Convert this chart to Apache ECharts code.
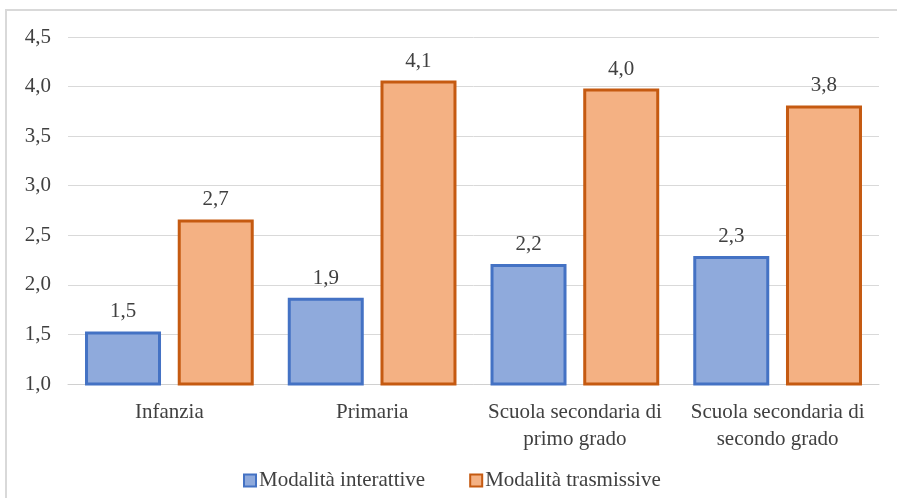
<!DOCTYPE html>
<html>
<head>
<meta charset="utf-8">
<script src="https://cdn.jsdelivr.net/npm/echarts@6/dist/echarts.min.js"></script>
<style>
  html, body { margin: 0; padding: 0; background: #fff; }
  #frame { position: absolute; left: 5px; top: 9px; width: 892px; height: 489px;
           border-top: 2px solid #d9d9d9; border-left: 2px solid #d9d9d9; box-sizing: border-box; }
  #chart { position: absolute; left: 0; top: 0; width: 897px; height: 498px; }
</style>
</head>
<body>
<div id="frame"></div>
<div id="chart"></div>
<script>
// School levels on the category axis
const categories = ['Infanzia', 'Primaria', 'Scuola secondaria di\nprimo grado', 'Scuola secondaria di\nsecondo grado'];
// Mean scores per teaching approach
const interattive = [1.53, 1.87, 2.21, 2.29];
const trasmissive = [2.66, 4.06, 3.98, 3.81];
const seriesNames = ['Modalità interattive', 'Modalità trasmissive'];
// Value axis ticks
const yTicks = [1.0, 1.5, 2.0, 2.5, 3.0, 3.5, 4.0, 4.5];

const font = 'Liberation Serif, Times New Roman, serif';
const txt = '#404040';
const fs = 21;
const fmt = v => (Math.round(v * 10) / 10).toFixed(1).replace('.', ',');

const chart = echarts.init(document.getElementById('chart'));
chart.setOption({
  animation: false,
  textStyle: { fontFamily: font },
  grid: { left: 68, right: 18, top: 37, bottom: 114 },
  legend: {
    bottom: 2,
    left: 238,
    itemGap: 44,
    itemWidth: 12,
    itemHeight: 12,
    icon: 'rect',
    textStyle: { fontFamily: font, fontSize: fs, color: txt, padding: [0, 0, 0, -2] },
    data: seriesNames
  },
  xAxis: {
    type: 'category',
    data: categories,
    axisTick: { show: false },
    axisLine: { lineStyle: { color: '#d0d0d0', width: 1 } },
    axisLabel: { interval: 0, fontFamily: font, fontSize: fs, color: txt, margin: 15, lineHeight: 27 }
  },
  yAxis: {
    type: 'value',
    min: yTicks[0],
    max: yTicks[yTicks.length - 1],
    interval: 0.5,
    axisLine: { show: false },
    axisTick: { show: false },
    splitLine: { lineStyle: { color: '#d9d9d9', width: 1 } },
    axisLabel: { fontFamily: font, fontSize: fs, color: txt, margin: 17, formatter: v => fmt(v) }
  },
  series: [
    {
      name: seriesNames[0],
      type: 'bar',
      data: interattive,
      barWidth: 76,
      barGap: '22%',
      itemStyle: { color: '#8faadc', borderColor: '#4472c4', borderWidth: 3 },
      label: { show: true, position: 'top', distance: 9, fontFamily: font, fontSize: fs, color: txt, formatter: p => fmt(p.value) }
    },
    {
      name: seriesNames[1],
      type: 'bar',
      data: trasmissive,
      barWidth: 76,
      itemStyle: { color: '#f4b183', borderColor: '#c55a11', borderWidth: 3 },
      label: { show: true, position: 'top', distance: 9, fontFamily: font, fontSize: fs, color: txt, formatter: p => fmt(p.value) }
    }
  ]
});
</script>
</body>
</html>
